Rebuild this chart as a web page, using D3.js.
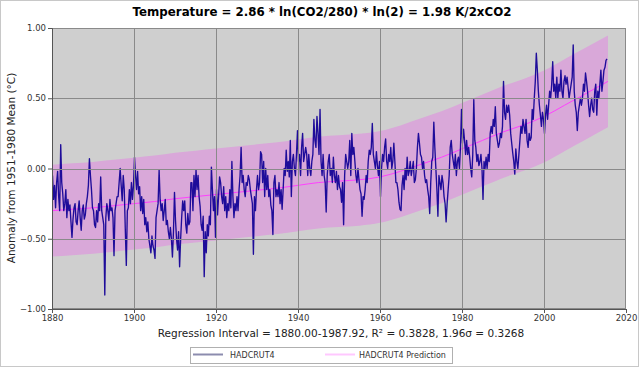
<!DOCTYPE html>
<html><head><meta charset="utf-8">
<script src="https://cdn.jsdelivr.net/npm/d3@7"></script>
<style>html,body{margin:0;padding:0;background:#fff;}svg{display:block;font-family:"DejaVu Sans",sans-serif;}</style>
</head><body>
<svg id="c" width="640" height="368"></svg>
<script>
// ---- DATA ----
const titleText = "Temperature = 2.86 * ln(CO2/280) * ln(2) = 1.98 K/2xCO2";
const yLabelText = "Anomaly from 1951-1980 Mean (°C)";
const subText = "Regression Interval = 1880.00-1987.92, R² = 0.3828, 1.96σ = 0.3268";
const seriesNames = ["HADCRUT4", "HADCRUT4 Prediction"];
const xTicks = [1880, 1900, 1920, 1940, 1960, 1980, 2000, 2020];
const yTicks = [-1, -0.5, 0, 0.5, 1];
const sigma196 = 0.3268;
const startYear = 1880;
// quarterly anomalies, one row per year (1880..2015)
const hadcrut = [
[-0.05,-0.22,-0.12,-0.28],[-0.10,-0.02,-0.20,-0.30],[0.17,-0.10,-0.18,-0.30],[-0.25,-0.15,-0.35,-0.22],
[-0.30,-0.26,-0.38,-0.49],[-0.36,-0.28,-0.25,-0.38],[-0.40,-0.30,-0.23,-0.35],[-0.44,-0.30,-0.26,-0.36],
[-0.33,-0.25,-0.20,-0.12],[0.07,-0.05,-0.15,-0.28],[-0.30,-0.40,-0.42,-0.30],[-0.38,-0.25,-0.30,-0.06],
[-0.30,-0.35,-0.40,-0.90],[-0.35,-0.25,-0.30,-0.37],[-0.22,-0.30,-0.28,-0.35],[-0.62,-0.30,-0.25,-0.20],
[-0.20,-0.10,0.00,-0.12],[-0.23,-0.05,-0.15,-0.43],[-0.69,-0.30,-0.28,-0.15],[-0.25,-0.10,-0.22,-0.12],
[0.08,-0.05,-0.15,-0.02],[-0.18,-0.13,-0.30,-0.20],[-0.32,-0.22,-0.40,-0.35],[-0.45,-0.38,-0.50,-0.55],
[-0.60,-0.48,-0.55,-0.58],[-0.64,-0.35,-0.30,-0.25],[-0.01,-0.22,-0.30,-0.25],[-0.37,-0.30,-0.22,-0.40],
[-0.37,-0.45,-0.50,-0.42],[-0.50,-0.63,-0.45,-0.17],[-0.37,-0.50,-0.58,-0.45],[-0.70,-0.50,-0.35,-0.23],
[-0.30,-0.23,-0.40,-0.46],[-0.32,-0.40,-0.38,-0.10],[-0.10,-0.30,-0.05,-0.20],[-0.01,-0.15,-0.05,-0.20],
[-0.27,-0.40,-0.44,-0.34],[-0.77,-0.45,-0.60,-0.40],[-0.48,-0.34,-0.40,0.01],[-0.15,-0.30,-0.20,-0.49],
[-0.15,-0.33,-0.20,-0.06],[-0.10,-0.20,-0.25,-0.13],[-0.30,-0.20,-0.35,-0.25],[-0.30,-0.15,-0.28,0.05],
[-0.20,-0.35,-0.25,-0.30],[-0.20,-0.30,-0.15,-0.05],[0.15,-0.10,-0.05,-0.15],[-0.20,-0.10,-0.12,-0.05],
[-0.08,-0.15,-0.20,-0.25],[-0.61,-0.20,-0.30,-0.15],[-0.05,-0.15,-0.10,0.12],[0.10,-0.10,0.05,-0.20],
[0.00,-0.15,-0.05,-0.20],[-0.15,-0.26,-0.30,-0.47],[-0.10,-0.05,-0.20,-0.15],[-0.20,-0.10,-0.25,-0.15],
[-0.29,-0.15,0.00,-0.05],[0.13,-0.02,0.05,-0.06],[0.20,-0.20,0.05,0.10],[0.00,-0.05,0.10,0.27],
[0.05,0.10,-0.05,0.15],[0.25,0.05,0.10,0.15],[0.10,-0.05,0.10,0.00],[-0.05,0.05,0.10,0.35],
[0.20,0.15,0.37,0.25],[0.10,0.42,0.05,-0.05],[0.10,-0.05,-0.10,-0.31],[-0.05,0.05,0.10,-0.05],
[0.00,-0.10,0.08,-0.05],[-0.10,-0.02,-0.15,-0.05],[-0.13,-0.15,-0.24,-0.10],[-0.40,-0.05,0.10,0.05],
[0.00,0.05,0.20,-0.05],[0.25,0.10,0.15,0.05],[-0.05,-0.10,0.00,-0.08],[-0.15,-0.18,-0.34,-0.20],
[-0.22,-0.15,-0.05,-0.10],[0.05,0.13,0.10,0.15],[0.32,0.10,0.05,0.00],[0.12,0.02,-0.05,0.05],
[-0.20,0.00,0.10,0.05],[0.15,0.21,0.05,0.00],[0.10,0.05,0.15,0.00],[0.05,0.18,0.05,-0.10],
[-0.10,-0.15,-0.24,-0.29],[-0.30,-0.12,-0.05,-0.15],[0.00,-0.08,0.08,-0.05],[-0.02,0.05,-0.05,0.00],
[0.05,-0.10,-0.08,0.00],[0.15,0.25,0.18,0.10],[0.08,0.00,0.05,-0.05],[-0.10,-0.08,-0.15,-0.20],
[-0.32,-0.10,0.05,0.08],[0.33,0.15,0.00,-0.15],[-0.34,-0.05,-0.10,-0.15],[-0.05,-0.10,-0.20,-0.25],
[-0.38,-0.25,-0.15,-0.05],[0.15,0.20,0.10,0.05],[0.00,0.10,-0.05,0.05],[0.08,0.00,0.15,0.42],
[0.18,0.28,0.20,0.10],[0.20,0.10,0.15,0.08],[0.00,-0.06,0.10,0.49],[0.20,0.15,0.05,0.10],
[0.02,0.05,0.10,0.00],[-0.22,0.05,0.00,0.08],[0.00,0.10,0.05,0.25],[0.30,0.25,0.35,0.30],
[0.44,0.25,0.20,0.15],[0.18,0.25,0.22,0.30],[0.62,0.40,0.35,0.45],[0.40,0.45,0.38,0.25],
[0.18,0.11,0.05,-0.04],[0.14,0.05,0.00,0.10],[0.20,0.30,0.25,0.35],[0.30,0.25,0.35,0.20],
[0.15,0.25,0.20,0.22],[0.42,0.35,0.50,0.62],[0.82,0.70,0.55,0.45],[0.38,0.30,0.40,0.35],
[0.25,0.38,0.45,0.35],[0.45,0.55,0.50,0.60],[0.76,0.55,0.60,0.50],[0.65,0.50,0.60,0.55],
[0.70,0.55,0.50,0.62],[0.66,0.60,0.65,0.58],[0.50,0.55,0.60,0.65],[0.88,0.55,0.45,0.40],
[0.27,0.40,0.45,0.50],[0.45,0.50,0.60,0.55],[0.68,0.62,0.55,0.45],[0.37,0.45,0.50,0.42],
[0.40,0.55,0.60,0.38],[0.55,0.50,0.60,0.70],[0.55,0.62,0.70,0.72],[0.77,0.78]
];
const predYears  = [1880,1885,1890,1895,1900,1905,1910,1915,1920,1925,1930,1935,1940,1945,1950,1955,1960,1965,1970,1975,1980,1985,1990,1995,2000,2005,2010,2015.6];
const predValues = [-0.30,-0.29,-0.28,-0.265,-0.25,-0.235,-0.215,-0.20,-0.185,-0.17,-0.155,-0.14,-0.12,-0.10,-0.09,-0.08,-0.06,-0.02,0.03,0.08,0.14,0.20,0.26,0.31,0.37,0.45,0.53,0.62];

// ---- CHART ----
const svg = d3.select("#c");
const L = 52, R = 626, T = 28, B = 309;
const x = d3.scaleLinear().domain([1880, 2020]).range([L, R]);
const y = d3.scaleLinear().domain([-1, 1]).range([B, T]);

svg.append("rect").attr("x",0.5).attr("y",0.5).attr("width",638).attr("height",366)
  .attr("fill","#fff").attr("stroke","#c8c8c8");

svg.append("rect").attr("x",L).attr("y",T).attr("width",R-L).attr("height",B-T).attr("fill","#cfcfcf");

svg.append("defs").append("clipPath").attr("id","clip").append("rect")
  .attr("x",L).attr("y",T).attr("width",R-L).attr("height",B-T);

const pred = predYears.map((yr,i)=>({t:yr, v:predValues[i]}));
const g = svg.append("g").attr("clip-path","url(#clip)");
g.append("path").datum(pred)
  .attr("d", d3.area().x(d=>x(d.t)).y0(d=>y(d.v - sigma196)).y1(d=>y(d.v + sigma196)).curve(d3.curveMonotoneX))
  .attr("fill","#d9a8d9");

// grid
const grid = svg.append("g");
grid.selectAll(".gx").data(xTicks.slice(1,-1)).join("line")
  .attr("x1",d=>Math.round(x(d))+0.5).attr("x2",d=>Math.round(x(d))+0.5).attr("y1",T).attr("y2",B)
  .attr("stroke","#8a8a8a").attr("stroke-width",1);
grid.selectAll(".gy").data(yTicks.slice(1,-1)).join("line")
  .attr("y1",d=>Math.round(y(d))+0.5).attr("y2",d=>Math.round(y(d))+0.5).attr("x1",L).attr("x2",R)
  .attr("stroke","#8a8a8a").attr("stroke-width",1);

g.append("path").datum(pred)
  .attr("d", d3.line().x(d=>x(d.t)).y(d=>y(d.v)).curve(d3.curveMonotoneX))
  .attr("fill","none").attr("stroke","#ff40ff").attr("stroke-width",1);

const pts = [];
hadcrut.forEach((row,i)=>row.forEach((v,q)=>pts.push({t:startYear+i+q/4+0.125, v})));
g.append("path").datum(pts)
  .attr("d", d3.line().x(d=>x(d.t)).y(d=>y(d.v)))
  .attr("fill","none").attr("stroke","#1e0c9a").attr("stroke-width",1.35).attr("stroke-linejoin","round");

// frame
svg.append("rect").attr("x",L+0.5).attr("y",T+0.5).attr("width",R-L-1).attr("height",B-T-1)
  .attr("fill","none").attr("stroke","#8a8a8a");

// axes
const fmt = d3.format(".2f");
const ax = svg.append("g").attr("transform",`translate(0,${B})`)
  .call(d3.axisBottom(x).tickValues(xTicks).tickFormat(d3.format("d")).tickSize(4).tickPadding(2));
const ay = svg.append("g").attr("transform",`translate(${L},0)`)
  .call(d3.axisLeft(y).tickValues(yTicks).tickFormat(fmt).tickSize(4).tickPadding(2));
[ax,ay].forEach(a=>{
  a.select(".domain").attr("stroke","#555");
  a.selectAll(".tick line").attr("stroke","#555");
  a.selectAll("text").attr("font-size","8.5px").attr("fill","#333").attr("font-family","DejaVu Sans");
});

svg.append("text").attr("x",322).attr("y",16).attr("text-anchor","middle")
  .attr("font-size","11.8px").attr("font-weight","bold").attr("fill","#000").text(titleText);
svg.append("text").attr("transform","translate(15,168) rotate(-90)").attr("text-anchor","middle")
  .attr("font-size","10.5px").attr("fill","#222").text(yLabelText);
svg.append("text").attr("x",341).attr("y",337).attr("text-anchor","middle")
  .attr("font-size","10.5px").attr("fill","#222").text(subText);

// legend
const lg = svg.append("g");
lg.append("rect").attr("x",190.5).attr("y",347.5).attr("width",262).attr("height",16)
  .attr("fill","#fff").attr("stroke","#b0b0b0");
lg.append("line").attr("x1",193).attr("x2",223).attr("y1",354.5).attr("y2",354.5).attr("stroke","#8c8cae").attr("stroke-width",2);
lg.append("text").attr("x",230).attr("y",358).attr("font-size","8px").attr("fill","#333").text(seriesNames[0]);
lg.append("line").attr("x1",325).attr("x2",355).attr("y1",354.5).attr("y2",354.5).attr("stroke","#ffc8ff").attr("stroke-width",2);
lg.append("text").attr("x",359).attr("y",358).attr("font-size","8px").attr("fill","#333").text(seriesNames[1]);
</script>
</body></html>
